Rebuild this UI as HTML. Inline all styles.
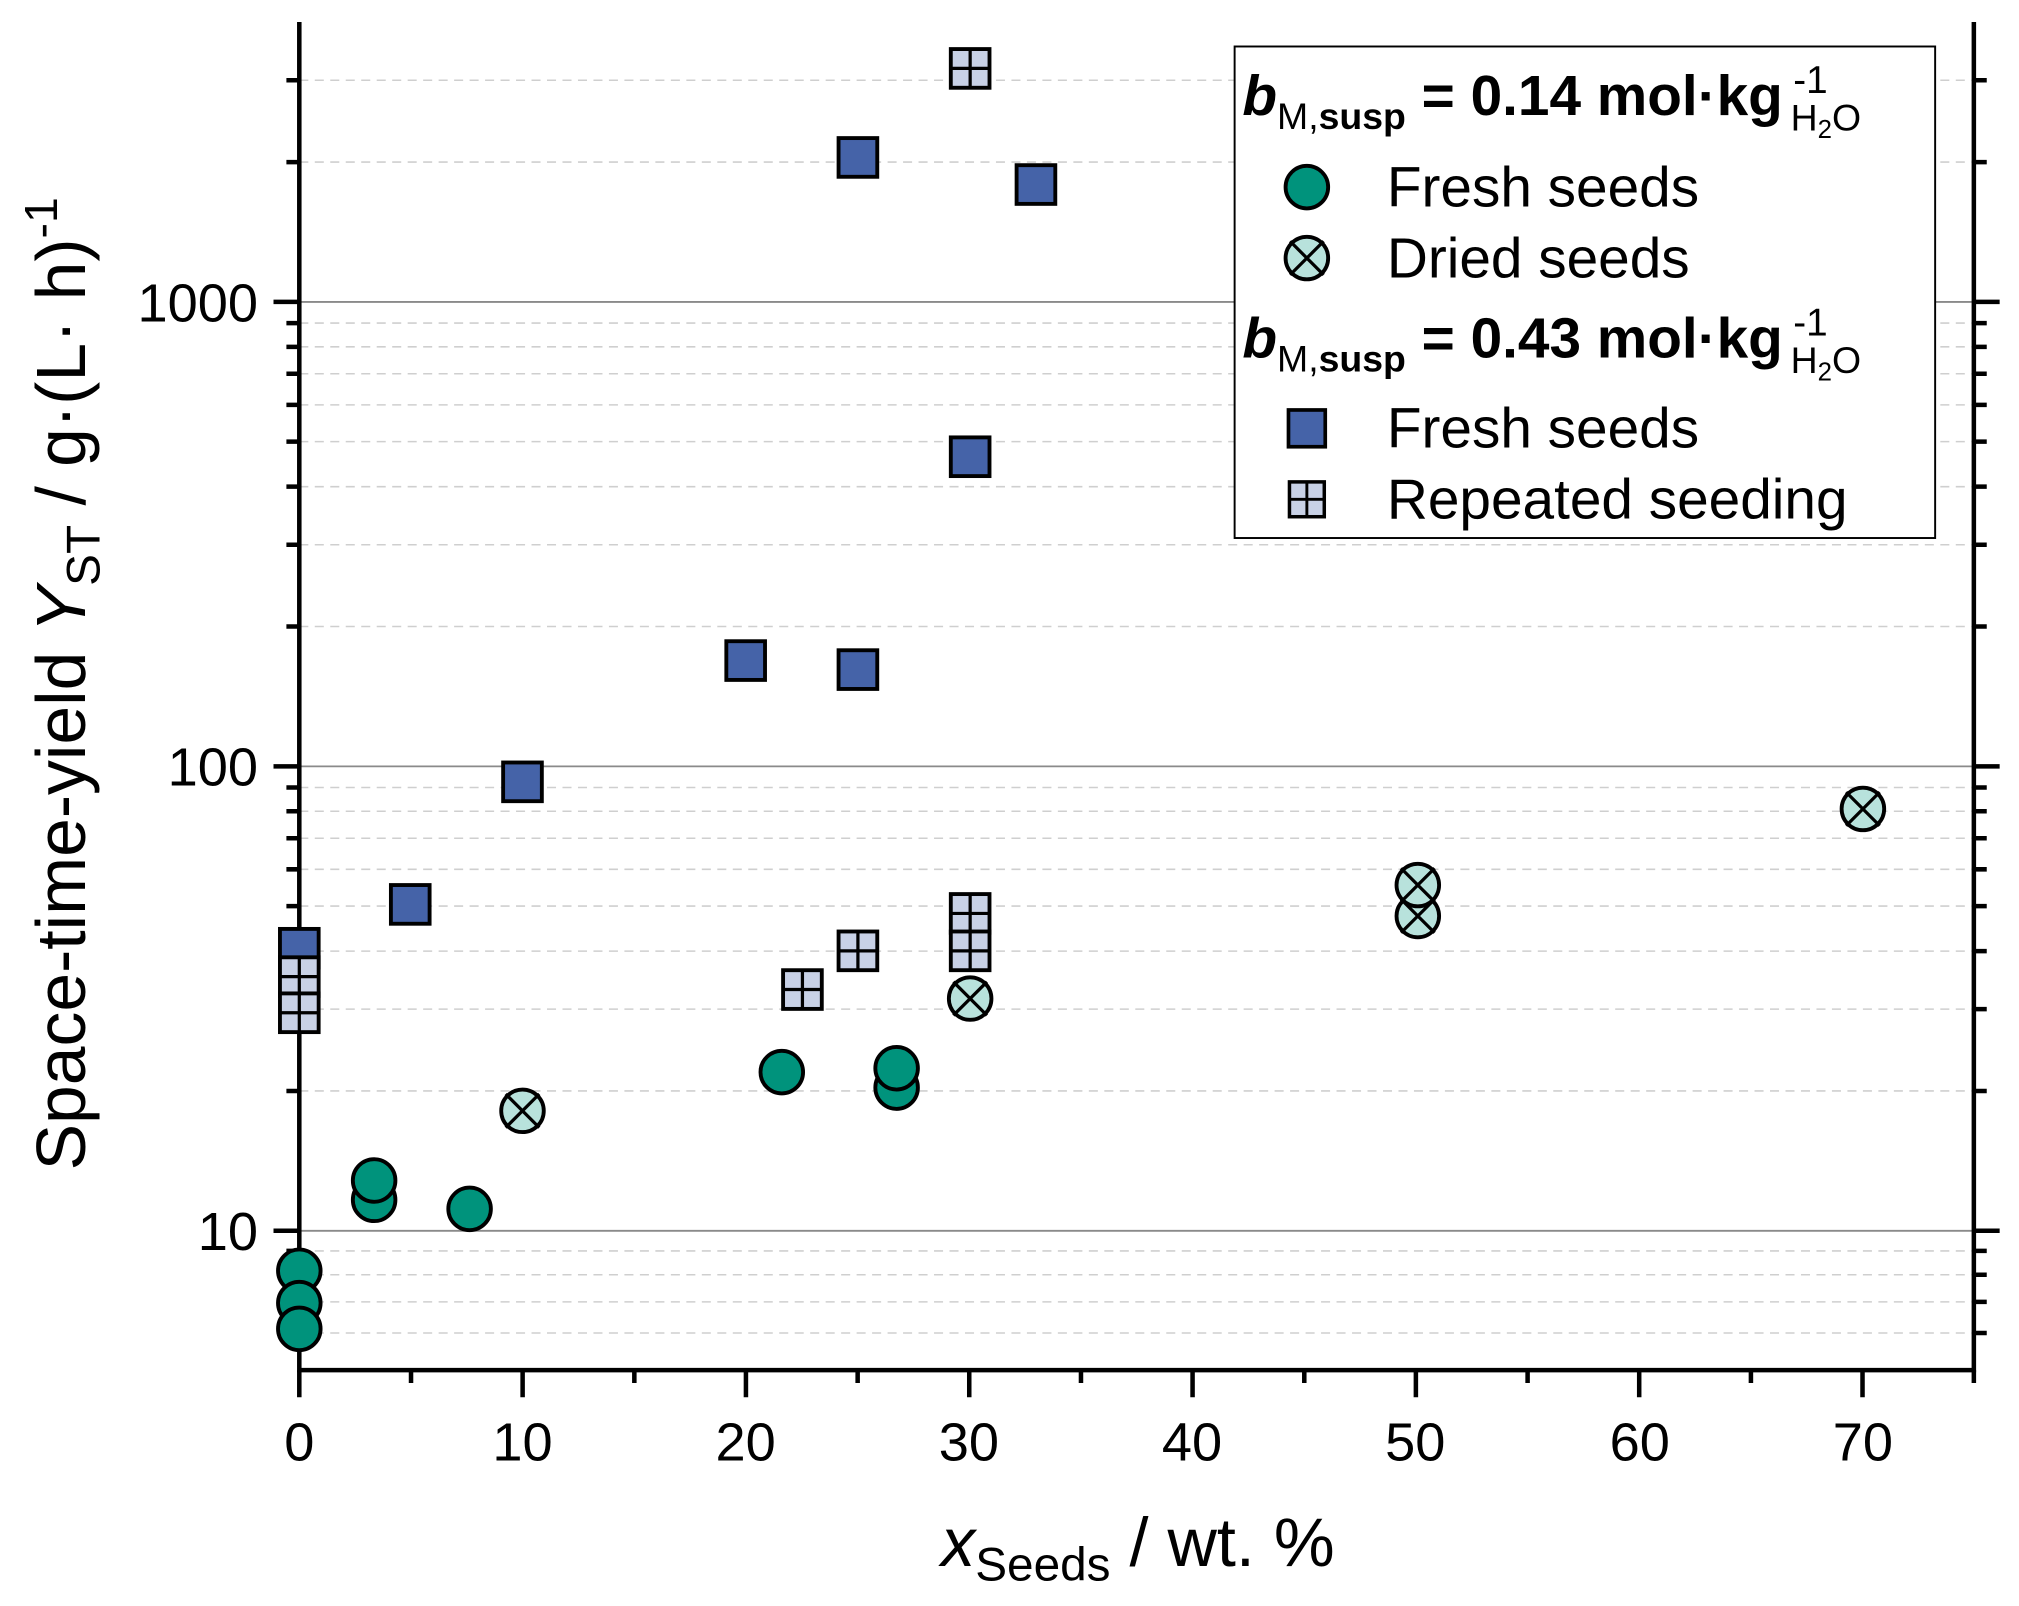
<!DOCTYPE html>
<html><head><meta charset="utf-8"><style>
html,body{margin:0;padding:0;background:#fff;}
svg{display:block;}
text{font-family:"Liberation Sans",Arial,sans-serif;fill:#000;}
</style></head><body>
<svg width="2019" height="1606" viewBox="0 0 1565 1244.8" xmlns="http://www.w3.org/2000/svg">
<defs>
<g id="c"><circle r="16.5" fill="#00937c" stroke="#000" stroke-width="3"/></g>
<g id="d"><circle r="16.5" fill="#b8e2dc" stroke="#000" stroke-width="3"/><path d="M-13,-13L13,13M-13,13L13,-13" stroke="#000" stroke-width="2.5"/></g>
<g id="s"><rect x="-15" y="-15" width="30" height="30" fill="#4563a8" stroke="#000" stroke-width="3"/></g>
<g id="r"><rect x="-15" y="-15" width="30" height="30" fill="#c8d1e6" stroke="#000" stroke-width="3"/><path d="M0,-14V14M-14,0H14" stroke="#000" stroke-width="2.5"/></g>
</defs>
<g stroke="#cfcfcf" stroke-width="1.2" stroke-dasharray="7,5">
<path d="M232,1033.2H1530M232,1009.1H1530M232,988.1H1530M232,969.6H1530"/>
<path d="M232,845.6H1530M232,782.2H1530M232,737.2H1530M232,702.3H1530M232,673.8H1530M232,649.7H1530M232,628.8H1530M232,610.4H1530"/>
<path d="M232,485.6H1530M232,422.2H1530M232,377.2H1530M232,342.3H1530M232,313.8H1530M232,289.7H1530M232,268.8H1530M232,250.4H1530"/>
<path d="M232,125.6H1530M232,62.2H1530"/>
</g>
<g stroke="#8a8a8a" stroke-width="1.4"><path d="M232,954H1530M232,594H1530M232,234H1530"/></g>
<g stroke="#000" stroke-width="3.5" fill="none">
<path d="M232,17V1062H1530V17"/>
<path d="M212,954H232M212,594H232M212,234H232M1530,954H1550M1530,594H1550M1530,234H1550"/>
<path d="M222,1033.2H232M222,1009.1H232M222,988.1H232M222,969.6H232M222,845.6H232M222,782.2H232M222,737.2H232M222,702.3H232M222,673.8H232M222,649.7H232M222,628.8H232M222,610.4H232M222,485.6H232M222,422.2H232M222,377.2H232M222,342.3H232M222,313.8H232M222,289.7H232M222,268.8H232M222,250.4H232M222,125.6H232M222,62.2H232"/>
<path d="M1530,1033.2H1540M1530,1009.1H1540M1530,988.1H1540M1530,969.6H1540M1530,845.6H1540M1530,782.2H1540M1530,737.2H1540M1530,702.3H1540M1530,673.8H1540M1530,649.7H1540M1530,628.8H1540M1530,610.4H1540M1530,485.6H1540M1530,422.2H1540M1530,377.2H1540M1530,342.3H1540M1530,313.8H1540M1530,289.7H1540M1530,268.8H1540M1530,250.4H1540M1530,125.6H1540M1530,62.2H1540"/>
<path d="M232,1062V1083M405.1,1062V1083M578.2,1062V1083M751.3,1062V1083M924.4,1062V1083M1097.5,1062V1083M1270.6,1062V1083M1443.7,1062V1083"/>
<path d="M318.6,1062V1072M491.7,1062V1072M664.8,1062V1072M837.9,1062V1072M1011,1062V1072M1184.1,1062V1072M1357.2,1062V1072M1530,1062V1072"/>
</g>
<g font-size="42" text-anchor="middle">
<text x="232" y="1132">0</text><text x="405" y="1132">10</text><text x="578" y="1132">20</text><text x="751" y="1132">30</text><text x="924" y="1132">40</text><text x="1097" y="1132">50</text><text x="1271" y="1132">60</text><text x="1444" y="1132">70</text>
</g>
<g font-size="42" text-anchor="end">
<text x="200" y="969">10</text><text x="200" y="609">100</text><text x="200" y="249">1000</text>
</g>
<text x="882" y="1214" font-size="53" text-anchor="middle"><tspan font-style="italic">x</tspan><tspan font-size="37" dy="11">Seeds</tspan><tspan dy="-11"> / wt. %</tspan></text>
<text transform="translate(66,530) rotate(-90)" font-size="54" text-anchor="middle">Space-time-yield <tspan font-style="italic">Y</tspan><tspan font-size="37" dy="11">ST</tspan><tspan dy="-11"> / g·(L· h)</tspan><tspan font-size="36" dy="-22">-1</tspan></text>
<rect x="957" y="36" width="543" height="381" fill="#fff" stroke="#000" stroke-width="1.5"/>
<g font-size="44">
<text x="963" y="89" font-weight="bold"><tspan font-style="italic">b</tspan><tspan font-size="29" font-weight="normal" dy="11">M,</tspan><tspan font-size="29" dy="0">susp</tspan><tspan dy="-11"> = 0.14 mol·kg</tspan></text>
<text x="1390" y="72" font-size="30">-1</text><text x="1388" y="101" font-size="29">H<tspan font-size="20" dy="6">2</tspan><tspan dy="-6">O</tspan></text>
<text x="1075" y="160">Fresh seeds</text>
<text x="1075" y="215">Dried seeds</text>
<text x="963" y="277" font-weight="bold"><tspan font-style="italic">b</tspan><tspan font-size="29" font-weight="normal" dy="11">M,</tspan><tspan font-size="29" dy="0">susp</tspan><tspan dy="-11"> = 0.43 mol·kg</tspan></text>
<text x="1390" y="260" font-size="30">-1</text><text x="1388" y="289" font-size="29">H<tspan font-size="20" dy="6">2</tspan><tspan dy="-6">O</tspan></text>
<text x="1075" y="347">Fresh seeds</text>
<text x="1075" y="402">Repeated seeding</text>
</g>
<use href="#c" x="1013" y="145"/><use href="#d" x="1013" y="200"/>
<g transform="translate(1013,332) scale(0.95)"><use href="#s"/></g>
<g transform="translate(1013,387) scale(0.9)"><use href="#r"/></g>
<use href="#s" x="232" y="735"/><use href="#r" x="232" y="757"/><use href="#r" x="232" y="785"/>
<use href="#s" x="665" y="122"/><use href="#s" x="803" y="143"/><use href="#s" x="752" y="354"/><use href="#s" x="578" y="512"/><use href="#s" x="665" y="519"/><use href="#s" x="405" y="606"/><use href="#s" x="318" y="701"/>
<use href="#r" x="752" y="53"/><use href="#r" x="665" y="737"/><use href="#r" x="622" y="767"/><use href="#r" x="752" y="708"/><use href="#r" x="752" y="737"/>
<use href="#c" x="232" y="985"/><use href="#c" x="232" y="1010"/><use href="#c" x="232" y="1030"/><use href="#c" x="290" y="930"/><use href="#c" x="290" y="915"/><use href="#c" x="364" y="937"/><use href="#c" x="606" y="831"/><use href="#c" x="695" y="843"/><use href="#c" x="695" y="828"/>
<use href="#d" x="405" y="861"/><use href="#d" x="752" y="774"/><use href="#d" x="1099" y="710"/><use href="#d" x="1099" y="686"/><use href="#d" x="1444" y="627"/>
</svg>
</body></html>
